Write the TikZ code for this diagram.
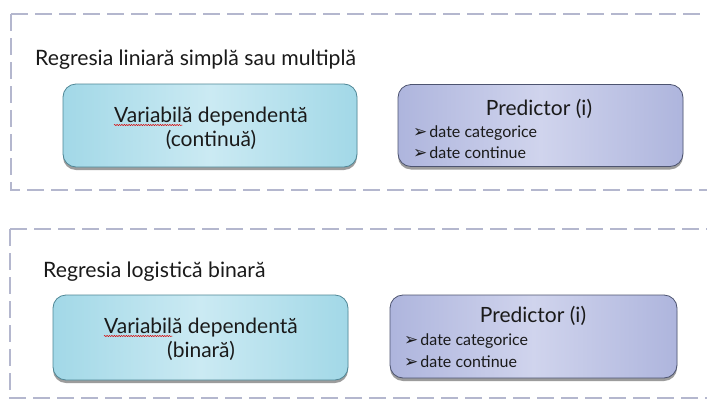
\documentclass[tikz,border=0pt]{standalone}
\usepackage{fontspec}
\setmainfont{Lato}
\newfontfamily\symf{DejaVu Sans}
\usetikzlibrary{shadows,decorations.pathmorphing,calc}
\definecolor{framecol}{HTML}{B4B7CE}
\definecolor{cyanedge}{HTML}{A2D8E7}
\definecolor{cyanmid}{HTML}{CBEAF3}
\definecolor{cyanborder}{HTML}{4F8796}
\definecolor{lavedge}{HTML}{AEB5DD}
\definecolor{lavmid}{HTML}{D0D4ED}
\definecolor{lavborder}{HTML}{4D5470}
\definecolor{txt}{HTML}{1A1A1A}
\begin{document}
\begin{tikzpicture}[x=1pt,y=-1pt,
  frame/.style={draw=framecol,line width=1.8pt,dash pattern=on 17pt off 7pt},
  cbox/.style={draw=cyanborder,line width=0.8pt,rounded corners=13pt,
    left color=cyanedge,right color=cyanedge,middle color=cyanmid,
    drop shadow={shadow xshift=0pt,shadow yshift=-3pt,opacity=0.55,fill=black!70}},
  pbox/.style={draw=lavborder,line width=0.8pt,rounded corners=13pt,
    left color=lavedge,right color=lavedge,middle color=lavmid,
    drop shadow={shadow xshift=0pt,shadow yshift=-3pt,opacity=0.55,fill=black!70}},
  title/.style={font=\fontsize{21.2}{25}\selectfont,text=txt,inner sep=0pt,anchor=base west},
  big/.style={font=\fontsize{21}{25}\selectfont,text=txt,inner sep=0pt,anchor=base},
  bullet/.style={font=\fontsize{16}{19}\selectfont,text=txt,inner sep=0pt,anchor=base west},
  squig/.style={draw=red!85!black,line width=0.5pt,decorate,decoration={snake,amplitude=0.6pt,segment length=2.4pt}}
]
\useasboundingbox (0,0) rectangle (707,399);
\fill[white] (0,0) rectangle (707,399);
\clip (0,0) rectangle (707,399);

% frames
\draw[frame] (11,14) -- (720,14) (11,14) -- (11,190) -- (720,190);
\draw[frame] (10,229) -- (720,229) (10,229) -- (10,398) -- (720,398);

% top section
\node[title] (t1) at (35,65) {Regresia liniară simplă sau multiplă};
\node[cbox,minimum width=294pt,minimum height=83pt] (b1) at (210,125.5) {};
\node[big] (b1a) at (211,122) {Variabilă dependentă};
\node[big] (b1b) at (211,146) {(continuă)};
\node[big,anchor=base west] (w1) at (b1a.base west) {\phantom{Variabil}};
\draw[squig] ($(w1.base west)+(0,3)$) -- ($(w1.base east)+(0,3)$);

\node[pbox,minimum width=285pt,minimum height=82pt] (b2) at (540.5,125.5) {};
\node[big] (b2a) at (539,115) {Predictor (i)};
\node[bullet] (b2b) at (413,137) {{\symf\fontsize{17}{19}\selectfont ➢}\hspace{2pt}date categorice};
\node[bullet] (b2c) at (413,158) {{\symf\fontsize{17}{19}\selectfont ➢}\hspace{2pt}date continue};

% bottom section
\node[title] (t2) at (43,277) {Regresia logistică binară};
\node[cbox,minimum width=295pt,minimum height=85pt] (b3) at (200.5,337.5) {};
\node[big] (b3a) at (201,333) {Variabilă dependentă};
\node[big] (b3b) at (201,357) {(binară)};
\node[big,anchor=base west] (w3) at (b3a.base west) {\phantom{Variabil}};
\draw[squig] ($(w3.base west)+(0,3)$) -- ($(w3.base east)+(0,3)$);

\node[pbox,minimum width=287pt,minimum height=83pt] (b4) at (533.5,336.5) {};
\node[big] (b4a) at (533,322) {Predictor (i)};
\node[bullet] (b4b) at (404,345) {{\symf\fontsize{17}{19}\selectfont ➢}\hspace{2pt}date categorice};
\node[bullet] (b4c) at (404,367) {{\symf\fontsize{17}{19}\selectfont ➢}\hspace{2pt}date continue};
\end{tikzpicture}
\end{document}
